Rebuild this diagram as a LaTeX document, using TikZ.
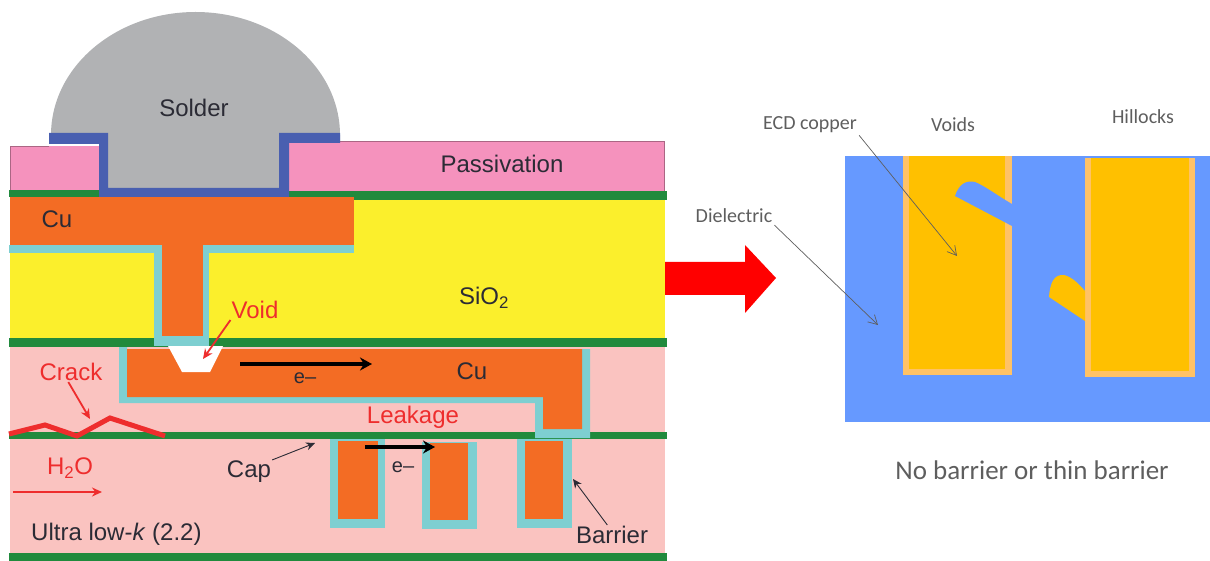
\documentclass[tikz,border=0pt]{standalone}
\usepackage{fontspec}
\usetikzlibrary{arrows.meta}
\setmainfont{Liberation Sans}
\newfontfamily\notefont{Carlito}
\definecolor{cuOrange}{HTML}{F36C24}
\definecolor{oxideYellow}{HTML}{FBEF2C}
\definecolor{lowkPink}{HTML}{FAC3C0}
\definecolor{capGreen}{HTML}{218A3D}
\definecolor{barrierTeal}{HTML}{7ECFD1}
\definecolor{passPink}{HTML}{F592BD}
\definecolor{ubmBlue}{HTML}{495FB0}
\definecolor{solderGrey}{HTML}{B1B2B4}
\definecolor{labelDark}{HTML}{2B2B35}
\definecolor{alertRed}{HTML}{EE2D2D}
\definecolor{dielBlue}{HTML}{6699FF}
\definecolor{ecdGold}{HTML}{FFC000}
\definecolor{linerGold}{HTML}{FFC266}
\definecolor{noteGrey}{HTML}{5E5E5E}
\tikzset{
    lbl/.style={font=\fontsize{24}{26}\selectfont, text=labelDark, inner sep=1pt},
    redlbl/.style={lbl, text=alertRed},
    notelbl/.style={font=\notefont\fontsize{20}{22}\selectfont, text=noteGrey, inner sep=2pt},
    leader/.style={draw=labelDark, line width=0.9pt, -{Stealth[length=9pt,width=8pt]}},
    redleader/.style={draw=alertRed, line width=1.8pt, -{Stealth[length=10pt,width=9pt]}},
    flow/.style={draw=black, line width=4pt, -{Stealth[length=12pt,width=13pt]}},
    noteleader/.style={draw=noteGrey, line width=0.7pt, -{Straight Barb[length=9pt,width=10pt]}},
}
\begin{document}
\begin{tikzpicture}[x=1pt,y=-1pt]
    \useasboundingbox (0,0) rectangle (1210,561);
    % left stack
    \fill[lowkPink] (10,347) rectangle (665,555);
    \fill[oxideYellow] (10,200) rectangle (665,340);
    \fill[capGreen] (9,338) rectangle (667,347);
    \fill[capGreen] (9,432) rectangle (667,439);
    \fill[capGreen] (9,553) rectangle (667,561);
    \fill[capGreen] (9,190) rectangle (289,197);
    \fill[capGreen] (289,191) rectangle (667,200);
    % solder
    \fill[solderGrey] (51,135) arc[start angle=180,end angle=0,x radius=144.5pt,y radius=123pt] -- (340,144) -- (285,144) -- (285,190) -- (105,190) -- (105,144) -- (51,144) -- cycle;
    \fill[passPink] (10,146) rectangle (99,190);
    \fill[passPink] (289,142) rectangle (664,191);
    \draw[draw=passPink!70!black, line width=0.6pt] (10,190) -- (10,146) -- (49,146);
    \draw[draw=passPink!70!black, line width=0.6pt] (340,141.5) -- (664,141.5) -- (664,191);
    \fill[ubmBlue] (49,133) -- (108,133) -- (108,188) -- (279,188) -- (279,133) -- (340,133) -- (340,143) -- (289,143) -- (289,197) -- (99,197) -- (99,144) -- (49,144) -- cycle;
    % upper metal
    \fill[barrierTeal] (9,245) rectangle (354,253);
    \fill[barrierTeal] (154,245) rectangle (209,346);
    \fill[cuOrange] (10,197) rectangle (354,245);
    \fill[cuOrange] (162,245) rectangle (203,336);
    % middle metal
    \fill[barrierTeal] (119,347) -- (127,347) -- (127,397) -- (535,397) -- (535,349) -- (590,349) -- (590,438) -- (535,438) -- (535,403) -- (119,403) -- cycle;
    \fill[cuOrange] (127,349) -- (582,349) -- (582,429) -- (543,429) -- (543,397) -- (127,397) -- cycle;
    \fill[white] (168,346) -- (223,346) -- (210,372) -- (182,372) -- cycle;
    % lower metal
    \fill[barrierTeal] (330,439) rectangle (385,528);
    \fill[cuOrange] (338,441) rectangle (378,519);
    \fill[barrierTeal] (422,442) rectangle (477,529);
    \fill[cuOrange] (430,443) rectangle (468,520);
    \fill[barrierTeal] (517,439) rectangle (572,528);
    \fill[cuOrange] (525,441) rectangle (563,519);
    % crack
    \draw[draw=alertRed, line width=5pt, miter limit=10] (9,434) -- (45,425) -- (77,436) -- (110,418) -- (165,436);
    % left labels
    \node[lbl] (solderLbl) at (194,108) {Solder};
    \node[lbl] (passLbl) at (502,164) {Passivation};
    \node[lbl] (cuTopLbl) at (57,219) {Cu};
    \node[lbl] (oxideLbl) at (484,298) {SiO\textsubscript{2}};
    \node[redlbl] (voidLbl) at (255,310) {Void};
    \node[lbl] (cuMidLbl) at (472,371) {Cu};
    \node[redlbl] (crackLbl) at (71,372) {Crack};
    \node[redlbl] (leakLbl) at (413,417) {Leakage};
    \node[redlbl] (waterLbl) at (70,468) {H\textsubscript{2}O};
    \node[lbl] (capLbl) at (249,472) {Cap};
    \node[lbl, anchor=west] (lowkLbl) at (30,534) {Ultra low-\textit{k} (2.2)};
    \node[lbl] (barrierLbl) at (612,535) {Barrier};
    \node[lbl, font=\fontsize{20}{22}\selectfont] (elecMidLbl) at (305,378) {e–};
    \node[lbl, font=\fontsize{20}{22}\selectfont] (elecLowLbl) at (403,467) {e–};
    % left arrows
    \coordinate (voidTip) at (203,359);
    \coordinate (crackTip) at (90,419);
    \coordinate (capTip) at (315,443);
    \coordinate (barrierTip) at (573,479);
    \coordinate (waterTail) at (13,492);
    \coordinate (waterTip) at (102,492);
    \coordinate (elecMidTail) at (240,364);
    \coordinate (elecMidTip) at (372,364);
    \coordinate (elecLowTail) at (365,447);
    \coordinate (elecLowTip) at (435,447);
    \draw[redleader] (voidLbl.south west) -- (voidTip);
    \draw[redleader] (crackLbl.255) -- (crackTip);
    \draw[leader] (capLbl.north east) -- (capTip);
    \draw[leader] (barrierLbl.115) -- (barrierTip);
    \draw[redleader] (waterTail) -- (waterTip);
    \draw[flow] (elecMidTail) -- (elecMidTip);
    \draw[flow] (elecLowTail) -- (elecLowTip);
    % big arrow
    \fill[red] (665,262) -- (745,262) -- (745,245) -- (776,278) -- (745,313) -- (745,295) -- (665,295) -- cycle;
    % right panel
    \fill[dielBlue] (845,156) rectangle (1210,422);
    \fill[linerGold] (903,156) rectangle (1012,375);
    \fill[ecdGold] (909,156) rectangle (1005,369);
    \fill[linerGold] (1085,158) rectangle (1195,377);
    \fill[ecdGold] (1091,158) rectangle (1189,371);
    \fill[dielBlue] (955,196) .. controls (959,184) and (966,180) .. (975,182) .. controls (985,186) and (998,196) .. (1012,204) -- (1012,226) -- cycle;
    \fill[ecdGold] (1049,297) .. controls (1050,283) and (1054,274) .. (1064,275) .. controls (1072,277) and (1079,284) .. (1085,291) -- (1085,321) -- cycle;
    % right labels
    \node[notelbl] (ecdLbl) at (810,125) {ECD copper};
    \node[notelbl] (voidsLbl) at (953,125) {Voids};
    \node[notelbl] (hillockLbl) at (1143,117) {Hillocks};
    \node[notelbl] (dielLbl) at (734,216) {Dielectric};
    \node[notelbl, font=\notefont\fontsize{27}{30}\selectfont] (barrierNote) at (1032,470) {No barrier or thin barrier};
    \coordinate (ecdTip) at (957,256);
    \coordinate (dielTip) at (878,325);
    \draw[noteleader] (ecdLbl.south east) -- (ecdTip);
    \draw[noteleader] (dielLbl.south east) -- (dielTip);
\end{tikzpicture}
\end{document}
